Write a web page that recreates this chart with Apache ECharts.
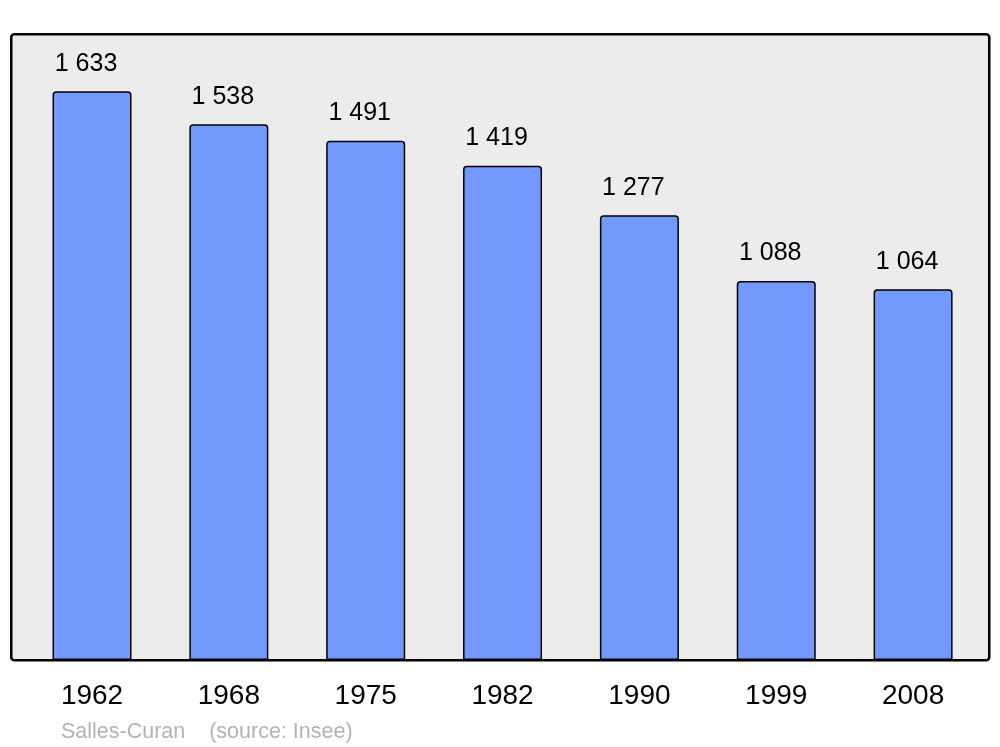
<!DOCTYPE html>
<html>
<head>
<meta charset="utf-8">
<script src="https://cdn.jsdelivr.net/npm/echarts@6/dist/echarts.min.js"></script>
<style>html,body{margin:0;padding:0;background:#fff}#c{width:1000px;height:747px}</style>
</head>
<body>
<div id="c"></div>
<script>
const years = ['1962', '1968', '1975', '1982', '1990', '1999', '2008'];
const population = [1633, 1538, 1491, 1419, 1277, 1088, 1064];
const sourceText = 'Salles-Curan    (source: Insee)';

const chart = echarts.init(document.getElementById('c'), null, {renderer: 'canvas'});
const font = 'Liberation Sans, Arial, sans-serif';
chart.setOption({
  animation: false,
  backgroundColor: '#ffffff',
  title: {
    text: sourceText,
    left: 56, top: 716,
    textStyle: {color: '#b3b3b3', fontSize: 21.5, fontWeight: 'normal', fontFamily: font}
  },
  graphic: [{
    type: 'rect', left: 10, top: 33, z: -10,
    shape: {width: 978, height: 626, r: 3},
    style: {fill: '#ececec', stroke: '#000', lineWidth: 2.5}
  }],
  grid: {left: 23.6, right: 18.5, top: 33, bottom: 87},
  xAxis: {
    type: 'category', data: years,
    axisLine: {show: false}, axisTick: {show: false},
    axisLabel: {color: '#000', fontSize: 28, margin: 22, fontFamily: font}
  },
  yAxis: {type: 'value', min: 0, max: 1800, show: false, splitLine: {show: false}},
  series: [{
    type: 'bar', data: population, barWidth: 79,
    itemStyle: {color: '#7399ff', borderColor: '#000', borderWidth: 1.5, borderRadius: [3, 3, 0, 0]},
    label: {
      show: true, position: 'top', distance: 15, offset: [-6, 0],
      color: '#000', fontSize: 25, fontFamily: font,
      formatter: p => String(p.value).replace(/\B(?=(\d{3})+(?!\d))/g, ' ')
    }
  }]
});
</script>
</body>
</html>
